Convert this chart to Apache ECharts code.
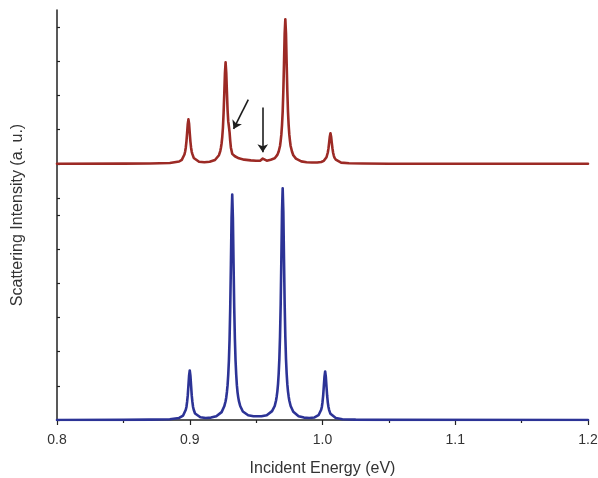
<!DOCTYPE html>
<html>
<head>
<meta charset="utf-8">
<script src="https://cdn.jsdelivr.net/npm/echarts@6/dist/echarts.min.js"></script>
<style>
  html, body { margin: 0; padding: 0; background: #fff; }
  #chart { width: 598px; height: 478px; }
</style>
</head>
<body>
<div id="chart"></div>
<script>
  // x tick labels
  const xTicks = [0.8, 0.9, 1.0, 1.1, 1.2];
  // y ticks (no labels): lower panel ticks + upper (offset) ticks
  const yTicks = [0, 1, 2, 3, 4, 5, 6, 6.5, 7.5, 8.5, 9.5, 10.5, 11.5];

  // lower (blue) spectrum
  const blueEnergy = [0.800, 0.850, 0.870, 0.885, 0.892, 0.895, 0.896, 0.897, 0.8975, 0.898, 0.8985, 0.899, 0.8995,
    0.900, 0.9005, 0.901, 0.9015, 0.902, 0.9025, 0.903, 0.904, 0.905, 0.908, 0.912, 0.916, 0.920, 0.924, 0.926,
    0.927, 0.9275, 0.928, 0.9285, 0.929, 0.9295, 0.930, 0.9305, 0.931, 0.9315, 0.932, 0.9325, 0.933, 0.9335, 0.934,
    0.9345, 0.935, 0.9355, 0.936, 0.9365, 0.937, 0.938, 0.940, 0.944, 0.948, 0.951, 0.954, 0.958, 0.962, 0.964,
    0.965, 0.9655, 0.966, 0.9665, 0.967, 0.9675, 0.968, 0.9685, 0.969, 0.9695, 0.970, 0.9705, 0.971, 0.9715, 0.972,
    0.9725, 0.973, 0.9735, 0.974, 0.9745, 0.975, 0.976, 0.978, 0.982, 0.986, 0.990, 0.994, 0.997, 0.998, 0.999,
    0.9995, 1.000, 1.0005, 1.001, 1.0015, 1.002, 1.0025, 1.003, 1.0035, 1.004, 1.0045, 1.005, 1.006, 1.007, 1.010,
    1.015, 1.025, 1.040, 1.200];
  const blueIntensity = [0, 0.005, 0.01, 0.023, 0.06, 0.13, 0.18, 0.30, 0.38, 0.53, 0.72, 1.01, 1.30,
    1.45, 1.30, 1.01, 0.72, 0.53, 0.38, 0.30, 0.19, 0.14, 0.08, 0.06, 0.07, 0.11, 0.23, 0.40,
    0.55, 0.66, 0.82, 1.02, 1.33, 1.74, 2.37, 3.29, 4.56, 5.92, 6.60, 5.92, 4.56, 3.29, 2.37,
    1.74, 1.33, 1.02, 0.81, 0.67, 0.56, 0.41, 0.25, 0.14, 0.11, 0.11, 0.11, 0.14, 0.26, 0.41,
    0.57, 0.69, 0.84, 1.05, 1.36, 1.79, 2.44, 3.39, 4.70, 6.10, 6.78, 6.10, 4.70, 3.39, 2.44,
    1.79, 1.36, 1.05, 0.84, 0.69, 0.57, 0.41, 0.24, 0.11, 0.07, 0.06, 0.075, 0.14, 0.19, 0.30,
    0.38, 0.52, 0.71, 0.99, 1.27, 1.42, 1.27, 0.98, 0.71, 0.51, 0.38, 0.29, 0.18, 0.13, 0.056,
    0.024, 0.01, 0.003, 0];

  // upper (red) spectrum, offset
  const redEnergy = [0.800, 0.850, 0.870, 0.885, 0.892, 0.894, 0.895, 0.896, 0.8965, 0.897, 0.8975, 0.898, 0.8985,
    0.899, 0.8995, 0.900, 0.9005, 0.901, 0.9015, 0.902, 0.903, 0.904, 0.907, 0.911, 0.915, 0.919, 0.922, 0.923,
    0.9235, 0.924, 0.9245, 0.925, 0.9255, 0.926, 0.9265, 0.927, 0.9275, 0.928, 0.9285, 0.929, 0.9295, 0.930, 0.9305,
    0.931, 0.932, 0.934, 0.937, 0.941, 0.946, 0.950, 0.953, 0.954, 0.955, 0.956, 0.958, 0.961, 0.964, 0.966,
    0.967, 0.968, 0.9685, 0.969, 0.9695, 0.970, 0.9705, 0.971, 0.9715, 0.972, 0.9725, 0.973, 0.9735, 0.974, 0.9745,
    0.975, 0.9755, 0.976, 0.977, 0.978, 0.980, 0.984, 0.988, 0.992, 0.996, 0.999, 1.001, 1.002, 1.003,
    1.0035, 1.004, 1.0045, 1.005, 1.0055, 1.006, 1.0065, 1.007, 1.0075, 1.008, 1.0085, 1.009, 1.010, 1.011,
    1.014, 1.020, 1.030, 1.050, 1.200];
  const redIntensity = [7.50, 7.503, 7.506, 7.52, 7.565, 7.615, 7.67, 7.77, 7.85, 7.97, 8.15, 8.40, 8.66,
    8.80, 8.67, 8.40, 8.15, 7.97, 7.85, 7.78, 7.67, 7.62, 7.56, 7.546, 7.557, 7.61, 7.75, 7.87,
    7.97, 8.10, 8.29, 8.56, 8.99, 9.54, 10.15, 10.47, 10.16, 9.60, 9.07, 8.74, 8.59, 8.42, 8.16,
    7.97, 7.79, 7.72, 7.66, 7.62, 7.60, 7.59, 7.59, 7.60, 7.65, 7.60, 7.59, 7.62, 7.66, 7.76,
    7.86, 8.02, 8.17, 8.35, 8.63, 9.02, 9.63, 10.43, 11.31, 11.73, 11.31, 10.43, 9.63, 9.02, 8.63,
    8.35, 8.17, 8.02, 7.86, 7.75, 7.65, 7.57, 7.545, 7.535, 7.536, 7.55, 7.585, 7.62, 7.69,
    7.74, 7.83, 7.95, 8.12, 8.29, 8.39, 8.29, 8.11, 7.95, 7.82, 7.74, 7.68, 7.62, 7.575,
    7.533, 7.513, 7.506, 7.502, 7.50];

  // arrows: [fromEnergy, fromIntensity, toEnergy, toIntensity]
  const arrows = [
    [0.9441, 9.38, 0.9330, 8.52],
    [0.9550, 9.15, 0.9550, 7.84]
  ];

  const zip = (xs, ys) => xs.map((x, i) => [x, ys[i]]);

  const chart = echarts.init(document.getElementById('chart'));
  const font = '"Liberation Sans", Arial, sans-serif';
  const axisColor = '#222';

  chart.setOption({
    animation: false,
    grid: { left: 57, right: 10, top: 10, bottom: 58, outerBoundsMode: 'none' },
    xAxis: {
      type: 'value',
      min: 0.8,
      max: 1.2,
      interval: 0.1,
      name: 'Incident Energy (eV)',
      nameLocation: 'middle',
      nameGap: 41,
      nameTextStyle: { fontFamily: font, fontSize: 16, color: '#333' },
      axisLine: { lineStyle: { color: axisColor, width: 1.5 } },
      axisTick: { show: true, length: 5, lineStyle: { color: axisColor, width: 1.2 } },
      minorTick: { show: true, splitNumber: 2, length: 3, lineStyle: { color: axisColor, width: 1.2 } },
      axisLabel: {
        margin: 13,
        fontFamily: font,
        fontSize: 14,
        color: '#333',
        formatter: (v) => (xTicks.some((t) => Math.abs(t - v) < 1e-9) ? v.toFixed(1) : '')
      },
      splitLine: { show: false },
      minorSplitLine: { show: false }
    },
    yAxis: {
      type: 'value',
      min: 0,
      max: 12,
      name: 'Scattering Intensity (a. u.)',
      nameLocation: 'middle',
      nameGap: 31,
      nameTextStyle: { fontFamily: font, fontSize: 16, color: '#333' },
      axisLine: { show: true, lineStyle: { color: axisColor, width: 1.5 } },
      axisTick: { show: true, inside: true, length: 3, customValues: yTicks, lineStyle: { color: axisColor, width: 1.2 } },
      axisLabel: { show: false },
      splitLine: { show: false }
    },
    series: [
      {
        name: 'lower',
        type: 'line',
        data: zip(blueEnergy, blueIntensity),
        showSymbol: false,
        symbol: 'none',
        lineStyle: { color: '#2c3396', width: 2.6, join: 'round', cap: 'round' },
        z: 3
      },
      {
        name: 'upper',
        type: 'line',
        data: zip(redEnergy, redIntensity),
        showSymbol: false,
        symbol: 'none',
        lineStyle: { color: '#9c2a25', width: 2.6, join: 'round', cap: 'round' },
        z: 3,
        markLine: {
          silent: true,
          symbol: ['none', 'arrow'],
          symbolSize: 8,
          label: { show: false },
          lineStyle: { color: '#1e1e1e', width: 1.6, type: 'solid' },
          emphasis: { disabled: true },
          data: arrows.map((a) => [{ coord: [a[0], a[1]] }, { coord: [a[2], a[3]] }])
        }
      }
    ]
  });
</script>
</body>
</html>
